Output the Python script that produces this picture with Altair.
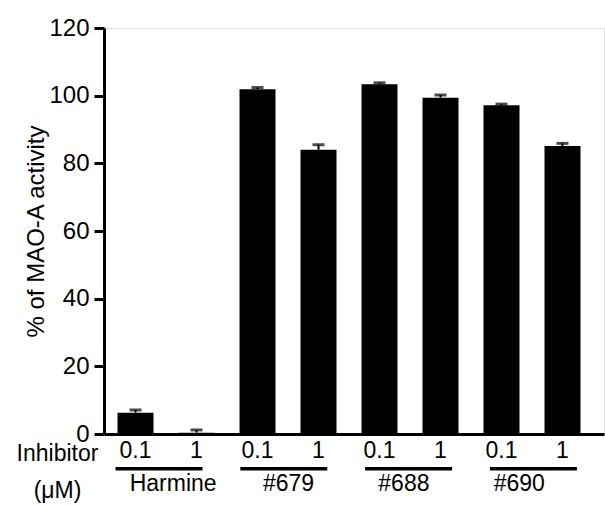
import altair as alt
import pandas as pd

# ---- data ----
compounds = ["Harmine", "Harmine", "#679", "#679", "#688", "#688", "#690", "#690"]
doses = ["0.1", "1", "0.1", "1", "0.1", "1", "0.1", "1"]
values = [6.3, 0.4, 101.9, 84.0, 103.4, 99.4, 97.2, 85.1]
errors = [0.8, 0.8, 0.5, 1.5, 0.4, 0.8, 0.3, 0.8]
groups = ["Harmine", "#679", "#688", "#690"]
y_ticks = [0, 20, 40, 60, 80, 100, 120]

keys = [f"{c} {d}" for c, d in zip(compounds, doses)]
df = pd.DataFrame({"key": keys, "compound": compounds, "dose": doses,
                   "value": values, "err": errors})
df["hi"] = df["value"] + df["err"]
gdf = pd.DataFrame({"group": groups})

FONT = "Liberation Sans"
FS = 24
FSB = 23
W, H = 500, 406

bar_scale = alt.Scale(domain=keys, range=[0, W], paddingInner=0.41,
                      paddingOuter=0.3034, align=0.365)
x_bar = alt.X("key:N", scale=bar_scale,
              axis=alt.Axis(labels=False, ticks=False, title=None,
                            domainWidth=3, domainColor="black"))
y_enc = alt.Y("value:Q", scale=alt.Scale(domain=[0, 120]),
              axis=alt.Axis(values=y_ticks, title="% of MAO-A activity",
                            grid=False, domainWidth=3, domainColor="black",
                            tickWidth=3, tickSize=10, tickColor="black",
                            labelFontSize=FS, labelFont=FONT, labelColor="black",
                            labelPadding=5, titleFont=FONT, titleFontSize=FS,
                            titleFontWeight="normal", titleColor="black",
                            titlePadding=0))

bars = alt.Chart(df).mark_bar(color="black").encode(x=x_bar, y=y_enc)
stems = alt.Chart(df).mark_rule(color="black", strokeWidth=2).encode(
    x=alt.X("key:N", scale=bar_scale), y="value:Q", y2="hi:Q")
caps = alt.Chart(df).mark_tick(color="black", orient="horizontal", size=12,
                               thickness=3).encode(
    x=alt.X("key:N", scale=bar_scale), y="hi:Q")
dose_text = alt.Chart(df).mark_text(font=FONT, fontSize=FSB, color="black",
                                    baseline="alphabetic").encode(
    x=alt.X("key:N", scale=bar_scale), y=alt.value(429.7), text="dose:N")
plot = alt.layer(bars, stems, caps, dose_text)

grp_scale = alt.Scale(domain=groups, range=[11.5, 472.9], paddingInner=0.303,
                      paddingOuter=0)
underline = alt.Chart(gdf).mark_bar(color="black").encode(
    x=alt.X("group:N", scale=grp_scale, axis=None),
    y=alt.value(439), y2=alt.value(442.5))
grp_text = alt.Chart(gdf).mark_text(font=FONT, fontSize=FSB, color="black",
                                    baseline="alphabetic").encode(
    x=alt.X("group:N", scale=grp_scale, axis=None),
    y=alt.value(462.5), text="group:N")

side = pd.DataFrame({"t": ["Inhibitor", "(\u03bcM)"], "yy": [432.5, 469.5]})
side_text = alt.Chart(side).mark_text(font=FONT, fontSize=FSB, color="black",
                                      baseline="alphabetic").encode(
    x=alt.value(-46.5), y=alt.Y("yy:Q", scale=None), text="t:N")

chart = alt.layer(plot, underline, grp_text, side_text).resolve_scale(
    x="independent"
).properties(
    width=W, height=H,
    autosize=alt.AutoSizeParams(type="none"),
    padding={"left": 104, "top": 28, "right": 1, "bottom": 71},
).configure_view(stroke=None).configure(background="white")

chart.save("out.html", embed_options={"renderer": "svg", "actions": False})
